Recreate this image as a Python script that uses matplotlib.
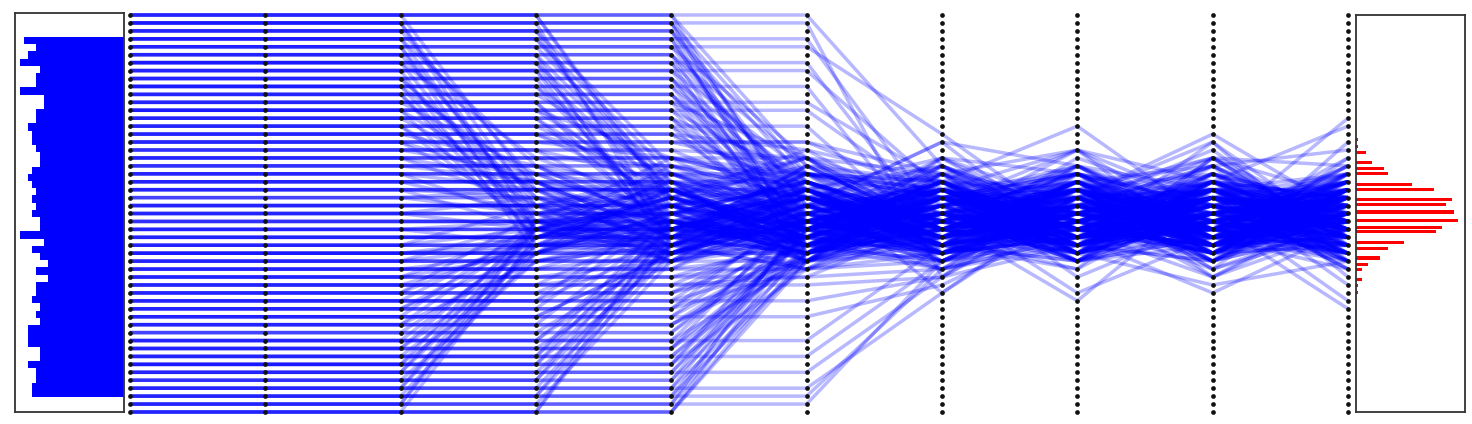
import matplotlib
matplotlib.use("Agg")
import matplotlib.pyplot as plt
import numpy as np

# left panel: histogram of the starting values, 50 bins listed top to bottom
start_counts = [25, 22, 24, 26, 21, 22, 22, 26, 20, 20, 22, 22, 24, 23, 23, 22, 21,
                21, 23, 24, 23, 22, 23, 22, 23, 21, 21, 26, 20, 23, 21, 19, 22, 19,
                22, 22, 23, 21, 22, 21, 24, 24, 24, 21, 21, 24, 22, 22, 23, 23]

# right panel: histogram of the final values (bin centre in level units, count)
end_levels = [15.7, 16.6, 17.3, 18.6, 19.3, 20.0, 21.3, 22.0, 23.2, 23.9, 24.8,
              25.9, 26.8, 27.3, 28.7, 29.4, 30.6, 31.4, 32.1, 33.3, 34.1, 34.9]
end_counts = [1, 1, 5, 8, 14, 16, 28, 39, 48, 45, 49, 51, 43, 40, 24, 16, 12, 6,
              3, 3, 1, 1]

n_levels = 51   # discrete levels on every vertical axis (0 = top)
n_stages = 10

# one sample per string: its level on each of the 10 axes
paths = [
    "0 0 0 22 28 19 27 31 21 26", "0 0 0 0 24 18 30 23 16 28",
    "0 0 0 0 0 27 21 33 26 20", "0 0 0 0 0 0 19 28 22 34",
    "0 0 0 0 23 29 20 26 24 31", "0 0 0 0 0 19 27 22 30 23",
    "1 1 1 27 21 30 18 24 31 23", "1 1 1 1 29 25 22 17 27 30",
    "1 1 1 1 1 20 31 26 19 17", "1 1 1 1 1 30 24 35 28 22",
    "1 1 1 1 1 1 33 20 29 25",
    "1 1 1 24 28 21 26 29 20 27", "1 1 1 1 1 26 19 30 23 25",
    "2 2 2 21 30 24 16 29 23 32", "2 2 2 2 19 23 28 21 31 16",
    "2 2 2 2 2 31 20 27 33 24", "2 2 2 2 2 24 16 19 25 21",
    "2 2 2 2 27 22 31 25 18 28", "2 2 2 2 2 21 26 24 28 30",
    "3 3 3 26 18 22 29 20 27 30", "3 3 3 19 27 32 23 30 18 19",
    "3 3 3 3 23 17 21 14 26 28", "3 3 3 3 3 28 30 22 32 20",
    "3 3 3 3 3 3 26 17 24 36",
    "3 3 3 3 20 26 25 31 23 24", "3 3 3 3 3 29 24 20 27 18",
    "4 4 4 29 22 27 20 17 30 24", "4 4 4 4 21 31 26 29 21 31",
    "4 4 4 4 4 18 23 31 27 19", "4 4 4 4 4 4 15 27 20 28",
    "4 4 4 25 31 23 29 24 26 22", "4 4 4 4 4 24 20 26 31 27",
    "5 5 5 23 29 19 27 22 18 29", "5 5 5 5 30 26 18 20 28 23",
    "5 5 5 5 5 23 29 21 19 33", "5 5 5 5 5 19 21 28 35 27",
    "5 5 5 5 22 27 19 25 30 26", "5 5 5 5 5 30 25 29 23 20",
    "6 6 6 18 24 31 21 28 25 20", "6 6 6 6 22 28 32 26 30 18",
    "6 6 6 6 28 20 23 19 22 29", "6 6 6 6 6 31 19 25 27 24",
    "6 6 6 6 6 6 28 32 18 23",
    "6 6 6 27 23 26 24 30 21 29", "6 6 6 6 6 22 28 21 25 31",
    "7 7 7 30 20 23 28 21 33 27", "7 7 7 7 23 18 20 30 22 31",
    "7 7 7 7 7 27 24 17 21 14", "7 7 7 7 7 7 22 29 26 19",
    "7 7 7 7 29 24 27 22 26 23", "7 7 7 7 7 20 23 27 29 25",
    "8 8 8 24 31 28 18 26 21 23", "8 8 8 8 27 21 35 23 18 26",
    "8 8 8 8 8 21 30 27 29 30", "8 8 8 8 8 29 23 20 24 20",
    "8 8 8 23 26 30 22 20 28 27", "8 8 8 8 8 25 31 24 22 24",
    "9 9 9 21 23 27 30 19 26 28", "9 9 9 27 19 22 26 29 31 22",
    "9 9 9 9 26 30 20 23 27 21", "9 9 9 9 9 22 18 28 16 31",
    "9 9 9 9 9 9 30 21 28 24",
    "9 9 9 9 21 25 28 26 23 32", "9 9 9 9 9 28 22 30 25 21",
    "10 10 10 26 27 20 23 31 20 27", "10 10 10 10 20 24 29 27 23 21",
    "10 10 10 10 10 26 21 22 30 25", "10 10 10 10 10 30 27 24 17 29",
    "10 10 10 28 22 25 21 27 24 29", "10 10 10 10 10 23 29 19 28 26",
    "11 11 11 20 22 29 31 23 28 19", "11 11 11 11 28 19 23 20 26 30",
    "11 11 11 11 11 18 27 30 22 26", "11 11 11 11 11 11 21 23 31 22",
    "11 11 11 11 25 30 24 28 20 24", "11 11 11 11 11 27 20 25 27 30",
    "12 12 12 28 26 23 19 27 22 23", "12 12 12 12 23 27 21 29 19 27",
    "12 12 12 12 18 22 30 24 29 20", "12 12 12 12 12 27 25 20 23 32",
    "12 12 12 12 12 12 24 19 27 29",
    "12 12 12 22 29 20 26 23 31 25", "12 12 12 12 12 21 26 28 25 22",
    "13 13 13 22 30 26 29 21 27 24", "13 13 13 13 27 20 24 22 30 22",
    "13 13 13 13 13 25 28 18 24 27", "13 13 13 13 13 20 22 27 20 25",
    "13 13 13 13 24 27 29 21 26 28", "13 13 13 13 13 29 24 23 30 26",
    "14 14 14 27 21 31 22 26 23 30", "14 14 14 14 22 28 19 27 21 24",
    "14 14 14 14 14 29 26 23 29 20", "14 14 14 14 14 14 29 24 19 27",
    "14 14 14 24 20 26 28 30 25 21", "14 14 14 14 14 23 29 26 22 27",
    "15 15 15 19 25 21 28 20 26 23", "15 15 15 15 20 27 22 30 18 28",
    "15 15 15 15 15 22 19 26 22 27", "15 15 15 15 15 17 26 21 28 19",
    "15 15 15 15 23 19 27 24 29 25", "15 15 15 15 15 26 24 30 21 23",
    "16 16 16 21 28 23 20 29 24 22", "16 16 16 16 18 21 27 25 28 26",
    "16 16 16 16 16 16 23 22 20 30", "16 16 16 16 16 16 20 31 25 24",
    "16 16 16 25 22 28 23 26 21 27", "16 16 16 16 16 20 27 24 29 24",
    "17 17 17 20 26 30 26 19 29 23", "17 17 17 17 21 23 22 28 23 27",
    "17 17 17 17 17 18 27 21 30 22",
    "17 17 17 17 26 29 21 27 25 22", "17 17 17 17 17 24 22 29 23 28",
    "18 18 18 24 22 18 29 26 20 26", "18 18 18 18 19 26 24 22 29 29",
    "18 18 18 18 18 20 21 30 26 23", "18 18 18 18 18 18 25 27 22 20",
    "18 18 18 21 28 24 26 22 30 25", "18 18 18 18 18 27 25 20 24 29",
    "19 19 19 21 27 29 23 20 28 27", "19 19 19 19 22 20 21 27 22 23",
    "19 19 19 19 19 23 28 25 26 30",
    "19 19 19 19 27 23 30 25 21 26", "19 19 19 19 19 20 29 26 28 23",
    "20 20 20 22 21 26 30 24 19 26", "20 20 20 20 26 29 22 28 27 22",
    "20 20 20 20 20 21 26 19 27 28", "20 20 20 20 20 20 22 26 23 24",
    "20 20 20 26 24 20 25 29 27 22", "20 20 20 20 20 25 23 28 22 27",
    "21 21 21 25 23 22 27 29 26 21", "21 21 21 21 24 21 29 23 22 28",
    "21 21 21 21 21 26 24 27 30 25", "21 21 21 21 21 21 26 20 24 27",
    "21 21 21 21 28 26 23 21 28 24", "21 21 21 21 21 23 30 25 27 20",
    "22 22 22 23 26 27 22 25 29 24", "22 22 22 22 22 23 26 21 27 26",
    "22 22 22 22 22 27 21 29 22 22", "22 22 22 22 22 22 28 24 25 29",
    "22 22 22 27 23 29 26 24 22 28", "22 22 22 22 22 29 25 23 29 25",
    "23 23 23 25 22 24 29 27 24 27", "23 23 23 23 24 27 21 25 20 24",
    "23 23 23 22 25 21 27 30 26 23", "23 23 23 23 23 26 28 24 21 27",
    "24 24 24 24 27 22 25 22 27 25", "24 24 24 24 26 26 23 29 24 21",
    "24 24 24 24 24 22 28 24 26 29", "24 24 24 24 24 24 22 27 29 23",
    "24 24 24 24 21 27 29 26 23 30", "24 24 24 24 24 28 24 22 27 21",
    "25 25 25 27 24 29 24 25 22 24", "25 25 25 25 27 22 27 22 25 26",
    "25 25 25 25 25 24 25 28 23 25", "25 25 25 25 25 25 23 25 27 22",
    "25 25 25 23 29 26 22 27 29 25", "25 25 25 25 25 21 27 29 25 28",
    "26 26 26 26 28 25 22 24 25 28", "26 26 26 26 25 23 26 27 28 23",
    "26 26 26 26 26 28 23 22 24 27",
    "26 26 26 26 22 28 24 21 26 24", "26 26 26 26 26 25 21 27 30 22",
    "27 27 27 26 25 23 27 29 23 25", "27 27 27 27 27 26 22 25 27 21",
    "27 27 27 27 27 25 27 23 21 27", "27 27 27 27 27 27 25 28 26 24",
    "27 27 27 29 26 22 28 25 24 29", "27 27 27 27 27 23 28 26 23 26",
    "28 28 28 28 23 27 25 22 28 26", "28 28 28 28 27 28 23 27 25 23",
    "28 28 28 28 28 27 22 25 29 25", "28 28 28 28 28 28 27 23 22 28",
    "28 28 28 28 24 30 26 28 21 23", "28 28 28 28 28 30 26 22 25 28",
    "29 29 29 27 29 24 23 27 22 25", "29 29 29 29 28 23 27 22 29 27",
    "29 29 29 29 29 28 24 29 24 22", "29 29 29 29 29 29 29 27 25 27",
    "29 29 29 24 30 25 21 26 28 27", "29 29 29 29 29 26 22 28 27 24",
    "30 30 30 28 24 22 28 25 27 23", "30 30 30 29 27 28 25 23 24 29",
    "30 30 30 30 28 27 23 28 27 25", "30 30 30 30 30 30 27 22 25 23",
    "30 30 30 30 30 30 23 28 27 26",
    "30 30 30 30 25 21 27 30 23 26", "30 30 30 30 30 24 29 25 22 28",
    "31 31 31 29 28 26 22 27 25 23", "31 31 31 31 29 24 28 23 28 22",
    "31 31 31 31 31 27 23 26 23 27", "31 31 31 31 31 31 30 25 21 26",
    "31 31 31 26 29 27 25 22 27 30", "31 31 31 31 31 29 27 23 26 22",
    "32 32 32 30 26 23 27 28 23 25", "32 32 32 32 30 28 25 24 27 29",
    "32 32 32 32 32 30 28 24 22 24", "32 32 32 32 32 32 31 27 28 25",
    "32 32 32 32 27 24 29 26 30 23", "32 32 32 32 32 25 22 27 28 26",
    "33 33 33 30 24 28 29 23 28 26", "33 33 33 33 31 26 23 29 25 23",
    "33 33 33 33 33 31 25 27 29 28", "33 33 33 33 33 33 32 28 23 26",
    "33 33 33 27 23 29 22 28 26 24", "33 33 33 33 33 28 30 25 21 27",
    "34 34 34 29 30 27 23 25 29 22", "34 34 34 34 32 23 28 25 23 27",
    "34 34 34 34 34 33 26 29 27 25", "34 34 34 34 34 34 33 24 25 30",
    "34 34 34 34 26 28 30 23 27 29", "34 34 34 34 34 27 24 21 29 23",
    "35 35 35 28 23 28 21 30 25 28", "35 35 35 35 28 30 25 20 31 23",
    "35 35 35 35 35 31 22 27 29 21", "35 35 35 35 35 26 29 32 23 30",
    "35 35 35 25 30 22 27 29 24 26", "35 35 35 35 35 29 26 28 25 31",
    "36 36 36 27 31 21 27 24 33 25", "36 36 36 36 29 22 30 28 21 31",
    "36 36 36 36 36 25 28 22 32 27", "36 36 36 36 36 36 33 23 28 20",
    "36 36 36 36 24 27 25 30 26 22", "36 36 36 36 36 31 23 27 29 25",
    "37 37 37 30 22 29 25 31 22 29", "37 37 37 37 25 31 21 29 26 24",
    "37 37 37 37 37 32 27 25 19 28", "37 37 37 37 37 27 23 30 28 32",
    "37 37 37 28 26 30 23 25 31 27", "37 37 37 37 37 24 29 26 22 30",
    "38 38 38 26 29 32 28 21 30 24", "38 38 38 38 30 26 24 31 28 26",
    "38 38 38 38 38 29 31 28 24 27", "38 38 38 38 38 38 34 26 30 21",
    "38 38 38 38 30 22 28 27 23 26", "38 38 38 38 38 26 25 31 28 23",
    "39 39 39 31 28 23 30 26 24 31", "39 39 39 39 26 29 32 23 31 22",
    "39 39 39 39 39 28 22 29 26 29", "39 39 39 39 39 30 27 21 29 25",
    "39 39 39 27 24 31 26 22 29 28", "39 39 39 39 39 31 28 24 27 21",
    "40 40 40 40 30 25 29 22 27 26", "40 40 40 40 40 26 30 25 30 20",
    "40 40 40 29 27 23 25 31 25 24", "40 40 40 40 40 28 23 27 23 29",
    "41 41 41 28 26 31 23 27 25 30", "41 41 41 41 27 23 26 36 22 27",
    "41 41 41 41 41 31 29 26 25 23", "41 41 41 41 41 41 29 31 22 26",
    "41 41 41 41 29 26 22 24 28 31", "41 41 41 41 41 25 30 28 26 23",
    "42 42 42 27 30 25 31 23 29 21", "42 42 42 42 31 28 22 26 30 29",
    "42 42 42 42 42 24 32 29 21 25", "42 42 42 42 42 30 25 23 27 31",
    "42 42 42 30 25 29 27 21 24 27", "42 42 42 42 42 28 26 22 30 26",
    "43 43 43 30 25 29 26 30 21 27", "43 43 43 43 25 30 27 22 26 37",
    "43 43 43 43 43 28 23 31 29 22", "43 43 43 43 43 43 31 22 26 29",
    "43 43 43 43 28 22 30 27 23 25", "43 43 43 43 43 30 27 25 24 28",
    "44 44 44 26 31 26 22 29 31 24", "44 44 44 31 27 22 29 25 23 26",
    "44 44 44 44 29 32 25 28 22 30", "44 44 44 44 44 25 27 21 31 25",
    "44 44 44 44 44 32 30 28 25 22",
    "44 44 44 44 26 28 23 30 27 21", "44 44 44 44 44 27 31 24 28 26",
    "45 45 45 29 22 27 32 22 28 29", "45 45 45 45 30 26 30 26 24 21",
    "45 45 45 45 45 27 21 30 34 31", "45 45 45 45 45 45 33 29 23 27",
    "45 45 45 27 30 24 28 26 30 23", "45 45 45 45 45 29 25 27 21 28",
    "46 46 46 31 29 23 26 30 26 25", "46 46 46 46 26 31 28 24 29 28",
    "46 46 46 46 46 30 26 23 28 22",
    "46 46 46 46 29 23 26 28 24 27", "46 46 46 46 46 26 29 22 26 30",
    "47 47 47 27 26 30 23 26 32 26", "47 47 47 47 29 24 31 29 22 30",
    "47 47 47 47 47 26 30 28 24 26", "47 47 47 47 47 47 35 24 29 23",
    "47 47 47 29 24 28 21 27 26 25", "47 47 47 47 47 31 27 25 30 22",
    "48 48 48 30 27 24 29 31 25 22", "48 48 48 48 27 29 23 21 27 13",
    "48 48 48 48 48 31 25 29 26 28", "48 48 48 48 48 48 32 28 24 30",
    "48 48 48 48 30 26 27 24 29 26", "48 48 48 48 48 27 22 30 23 27",
    "49 49 49 26 30 29 24 23 29 26", "49 49 49 49 31 22 29 28 25 23",
    "49 49 49 49 49 29 28 22 30 29", "49 49 49 49 49 49 31 23 15 25",
    "49 49 49 28 23 27 30 25 22 28", "49 49 49 49 49 25 30 26 28 24",
    "50 50 50 28 25 26 30 28 23 28", "50 50 50 50 26 28 24 30 26 21",
    "50 50 50 50 50 27 31 26 22 26", "50 50 50 50 50 30 22 28 29 24",
    "50 50 50 50 28 30 23 26 27 25", "50 50 50 50 50 31 26 24 29 22",
]
paths = [[int(v) for v in p.split()] for p in paths]

W, H = 1472, 424
fig = plt.figure(figsize=(W / 100, H / 100), dpi=100)

# left histogram
ax_l = fig.add_axes([15 / W, 12 / H, 109 / W, 399 / H])
nb = len(start_counts)
ax_l.barh(np.arange(nb) / nb, start_counts, height=1 / nb, align="edge",
          color="#0000ff", linewidth=0)
ax_l.set_xlim(27.25, 0)
ax_l.set_ylim(1 + 15 / 360, -24 / 360)

# main parallel-axes plot
ax = fig.add_axes([126 / W, 10 / H, 1226 / W, 401 / H])
xs = np.arange(n_stages)
for p in paths:
    ax.plot(xs, p, color="#0000ff", alpha=0.28, lw=2.5, solid_capstyle="butt")
lv = np.arange(n_levels)
for x in xs:
    ax.plot(np.full(n_levels, x), lv, "o", color="#111111", ms=3.4, mew=0, zorder=5)
ax.set_xlim(-4 / 135.33, 9 + 4 / 135.33)
ax.set_ylim(n_levels - 1 + 0.25, -0.25)
ax.axis("off")

# right histogram
ax_r = fig.add_axes([1356 / W, 12 / H, 109 / W, 397 / H])
ax_r.barh(end_levels, end_counts, height=0.4, color="#ff0000", linewidth=0)
ax_r.set_xlim(0, 54.5)
ax_r.set_ylim(n_levels - 1, 0)

for a in (ax_l, ax_r):
    a.set_xticks([])
    a.set_yticks([])
    for s in a.spines.values():
        s.set_color("#333333")
        s.set_linewidth(1.3)

fig.savefig("out.png", dpi=100)
